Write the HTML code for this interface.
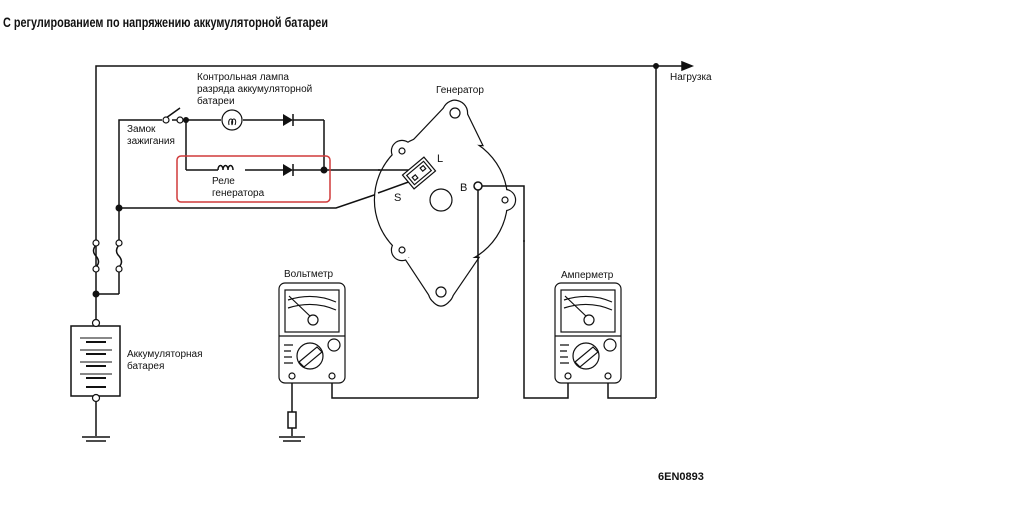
<!DOCTYPE html>
<html><head><meta charset="utf-8"><style>
html,body{margin:0;padding:0;background:#fff;}
svg{display:block;}
text{font-family:"Liberation Sans",sans-serif;fill:#111;}
</style></head><body>
<svg width="1024" height="525" viewBox="0 0 1024 525" xmlns="http://www.w3.org/2000/svg">
<defs>
<g id="gen">
<circle cx="441" cy="200" r="66"/>
<path d="M412,142 L449,103 Q455,98 462,104 L482,145 Z"/>
<path d="M405,258 L434,302 Q441,309 448,302 L478,258 Z"/>
<circle cx="402" cy="151" r="10"/><circle cx="402" cy="250" r="10"/><circle cx="505" cy="200" r="10"/>
<circle cx="455" cy="113" r="12"/><circle cx="441" cy="292" r="12"/>
</g>
</defs>
<rect width="1024" height="525" fill="#fff"/>
<text x="3" y="27" font-size="14" font-weight="bold" textLength="325" lengthAdjust="spacingAndGlyphs">С регулированием по напряжению аккумуляторной батареи</text>
<g fill="none" stroke="#111" stroke-width="1.5">
<polyline points="96,326 96,66 682,66"/>
<polygon points="682,62 692,66 682,70" fill="#111"/>
<line x1="656" y1="66" x2="656" y2="398"/>
<polyline points="656,398 608,398 608,378"/>
<polyline points="119,245 119,120 162,120"/>
<line x1="166" y1="118" x2="180" y2="108"/>
<line x1="172" y1="120" x2="186" y2="120"/>
<line x1="96" y1="294" x2="119" y2="294"/>
<line x1="119" y1="294" x2="119" y2="268"/>
<path d="M96,245 q-5,6 0,11 q5,6 0,11" />
<path d="M119,245 q-5,6 0,11 q5,6 0,11" />
<line x1="186" y1="120" x2="221" y2="120"/>
<line x1="243" y1="120" x2="283" y2="120"/>
<line x1="293" y1="120" x2="324" y2="120"/>
<line x1="324" y1="120" x2="324" y2="170"/>
<line x1="186" y1="120" x2="186" y2="170"/>
<line x1="186" y1="170" x2="218" y2="170"/>
<path d="M218,170 c0,-6 5,-6 5,0 c0,-6 5,-6 5,0 c0,-6 5,-6 5,0" />
<line x1="245" y1="170" x2="283" y2="170"/>
<line x1="293" y1="170" x2="324" y2="170"/>
<polyline points="119,208 336,208 380,193"/>
<line x1="324" y1="170" x2="380" y2="170"/>
<polyline points="332,378 332,398 478,398"/>
<polyline points="524,240 524,398 568,398 568,378"/>
<line x1="292" y1="378" x2="292" y2="412"/>
<rect x="288" y="412" width="8" height="16"/>
<line x1="292" y1="428" x2="292" y2="436"/>
<line x1="279" y1="437" x2="305" y2="437"/>
<line x1="283" y1="441" x2="301" y2="441"/>
<line x1="96" y1="326" x2="96" y2="322"/>
<rect x="71" y="326" width="49" height="70"/>
<line x1="96" y1="400" x2="96" y2="436"/>
<line x1="82" y1="437" x2="110" y2="437"/>
<line x1="86" y1="441" x2="106" y2="441"/>
</g>
<!-- generator body -->
<use href="#gen" fill="#111" stroke="#111" stroke-width="2.4"/>
<use href="#gen" fill="#fff" stroke="none"/>
<g fill="#fff" stroke="#111" stroke-width="1.2">
<circle cx="455" cy="113" r="5"/><circle cx="441" cy="292" r="5"/>
<circle cx="402" cy="151" r="3"/><circle cx="402" cy="250" r="3"/><circle cx="505" cy="200" r="3"/>
<circle cx="441" cy="200" r="11"/>
</g>
<g fill="none" stroke="#111" stroke-width="1.5">
<line x1="378" y1="170" x2="424" y2="170"/>
<line x1="378" y1="193" x2="414" y2="180"/>
<polyline points="478,186 524,186 524,242"/>
<line x1="478" y1="186" x2="478" y2="398"/>
</g>
<g fill="#fff" stroke="#111" stroke-width="1.2">
<g transform="translate(419,173) rotate(-40)">
<rect x="-14" y="-9" width="28" height="18"/><rect x="-11" y="-6" width="22" height="12"/>
<rect x="4" y="-3" width="4" height="4"/><rect x="-8" y="-1" width="4" height="4"/>
</g>
<circle cx="478" cy="186" r="4" stroke-width="1.5"/>
</g>
<g fill="#111">
<circle cx="656" cy="66" r="3"/>
<circle cx="186" cy="120" r="3"/>
<circle cx="324" cy="170" r="3.5"/>
<circle cx="119" cy="208" r="3.5"/>
<circle cx="96" cy="294" r="3.5"/>
<polygon points="283,114 293,120 283,126"/>
<line x1="293" y1="114" x2="293" y2="126" stroke="#111" stroke-width="1.5"/>
<polygon points="283,164 293,170 283,176"/>
<line x1="293" y1="164" x2="293" y2="176" stroke="#111" stroke-width="1.5"/>
</g>
<g fill="#fff" stroke="#111" stroke-width="1.2">
<circle cx="166" cy="120" r="3"/><circle cx="180" cy="120" r="3"/>
<circle cx="96" cy="243" r="3"/><circle cx="96" cy="269" r="3"/>
<circle cx="119" cy="243" r="3"/><circle cx="119" cy="269" r="3"/>
<circle cx="96" cy="323" r="3.5"/><circle cx="96" cy="398" r="3.5"/>
<circle cx="232" cy="120" r="10"/>
</g>
<path d="M229,125 c-2,-8 6,-8 3,0 M232,125 c-2,-8 6,-8 3,0" fill="none" stroke="#111" stroke-width="1"/>
<g stroke="#111" stroke-width="2">
<line x1="80" y1="338" x2="112" y2="338" stroke-width="1"/><line x1="86" y1="342" x2="106" y2="342"/>
<line x1="80" y1="350" x2="112" y2="350" stroke-width="1"/><line x1="86" y1="354" x2="106" y2="354"/>
<line x1="80" y1="362" x2="112" y2="362" stroke-width="1"/><line x1="86" y1="366" x2="106" y2="366"/>
<line x1="80" y1="374" x2="112" y2="374" stroke-width="1"/><line x1="86" y1="378" x2="106" y2="378"/>
<line x1="86" y1="387" x2="106" y2="387"/>
</g>
<rect x="177" y="156" width="153" height="46" rx="4" fill="none" stroke="#d03a3a" stroke-width="1.5"/>
<g id="m" fill="none" stroke="#111" stroke-width="1.2">
<rect x="279" y="283" width="66" height="100" rx="6" fill="#fff"/>
<rect x="285" y="290" width="54" height="42"/>
<path d="M288,300 q25,-8 48,2 M288,308 q25,-8 48,2" />
<line x1="289" y1="296" x2="312" y2="318"/>
<circle cx="313" cy="320" r="5" fill="#fff"/>
<line x1="279" y1="336" x2="345" y2="336"/>
<circle cx="310" cy="356" r="13"/>
<path d="M299,362 l18,-15 l5,5 l-18,15 z"/>
<circle cx="334" cy="345" r="6"/>
<path d="M284,345 h9 M284,351 h7 M284,357 h8 M284,363 h9"/>
<circle cx="292" cy="376" r="3"/><circle cx="332" cy="376" r="3"/>
</g>
<use href="#m" x="276" y="0"/>
<g font-size="10">
<text x="197" y="80">Контрольная лампа</text>
<text x="197" y="92">разряда аккумуляторной</text>
<text x="197" y="104">батареи</text>
<text x="127" y="132">Замок</text>
<text x="127" y="144">зажигания</text>
<text x="212" y="184">Реле</text>
<text x="212" y="196">генератора</text>
<text x="436" y="93">Генератор</text>
<text x="670" y="80">Нагрузка</text>
<text x="284" y="277">Вольтметр</text>
<text x="561" y="278">Амперметр</text>
<text x="127" y="357">Аккумуляторная</text>
<text x="127" y="369">батарея</text>
<text x="437" y="162" font-size="11">L</text>
<text x="394" y="201" font-size="11">S</text>
<text x="460" y="191" font-size="11">B</text>
</g>
<text x="658" y="480" font-size="11" font-weight="bold">6EN0893</text>
</svg>
</body></html>
